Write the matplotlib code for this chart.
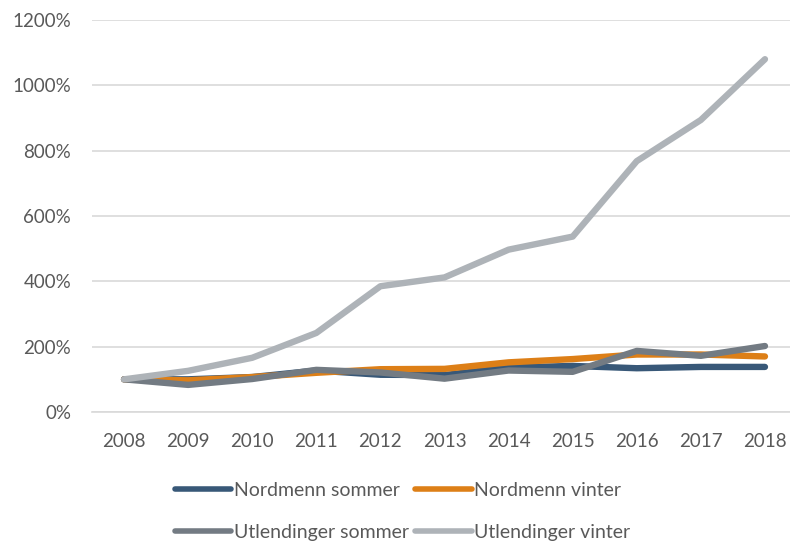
import matplotlib.pyplot as plt
from matplotlib.ticker import FuncFormatter

years = [2008, 2009, 2010, 2011, 2012, 2013, 2014, 2015, 2016, 2017, 2018]
nordmenn_sommer = [100, 100, 107, 127, 114, 113, 136, 141, 134, 138, 138]
nordmenn_vinter = [100, 97, 107, 120, 131, 132, 152, 162, 176, 176, 170]
utl_sommer = [100, 83, 101, 129, 121, 102, 127, 123, 187, 172, 202]
utl_vinter = [100, 126, 166, 242, 385, 412, 497, 537, 768, 894, 1080]

labels = ["Nordmenn sommer", "Nordmenn vinter", "Utlendinger sommer", "Utlendinger vinter"]
colors = ["#385878", "#DD7F17", "#737B83", "#AEB3B8"]
series = [nordmenn_sommer, nordmenn_vinter, utl_sommer, utl_vinter]

plt.rcParams['font.family'] = ['Lato', 'DejaVu Sans']

fig = plt.figure(figsize=(7.9, 5.42), dpi=100)
ax = fig.add_axes([92/790, 1-412/542, 705/790, 392/542])

lines = []
for s, c, lab in zip(series, colors, labels):
    ln, = ax.plot(years, s, color=c, lw=4.6, label=lab, solid_capstyle='round', solid_joinstyle='round')
    lines.append(ln)

ax.set_xlim(2007.5, 2018.5)
ax.set_ylim(0, 1200)
ax.set_yticks(range(0, 1201, 200))
ax.set_xticks(years)
ax.yaxis.set_major_formatter(FuncFormatter(lambda v, p: f"{int(v)}%"))
ax.grid(axis='y', color='#D9D9D9', lw=1.2)
ax.set_axisbelow(True)
for sp in ['top', 'right', 'left']:
    ax.spines[sp].set_visible(False)
ax.spines['bottom'].set_color('#D9D9D9')
ax.spines['bottom'].set_linewidth(1.2)
ax.tick_params(length=0, labelsize=13.5, colors='#595959')
ax.tick_params(axis='y', pad=15)
ax.tick_params(axis='x', pad=15)

# row-wise order like the original legend
order = [0, 2, 1, 3]
leg = fig.legend([lines[i] for i in order], [labels[i] for i in order], ncol=2,
                 loc='upper left', bbox_to_anchor=(175/790, 1-482/542), frameon=False,
                 fontsize=14, handlelength=2.9, handletextpad=0.15, columnspacing=0.3,
                 labelspacing=1.3, borderpad=0, borderaxespad=0)
for t in leg.get_texts():
    t.set_color('#595959')
for h in leg.legend_handles:
    h.set_linewidth(4)

fig.savefig("out.png", dpi=100)
